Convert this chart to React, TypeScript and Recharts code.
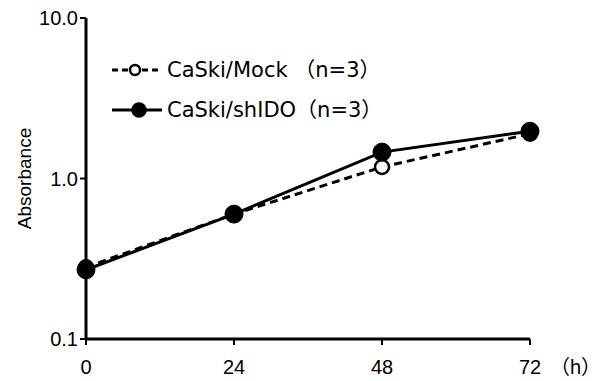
import { Line, LineChart, XAxis, YAxis } from 'recharts';

const hours = [0, 24, 48, 72];
const mockValues = [0.28, 0.6, 1.18, 1.9];
const shidoValues = [0.27, 0.6, 1.46, 1.97];
const yTicks = [0.1, 1, 10];
const xTicks = [0, 24, 48, 72];
const seriesNames = ['CaSki/Mock （n=3）', 'CaSki/shIDO（n=3）'];

const FONT = '"Liberation Sans", "Noto Sans CJK JP", Arial, sans-serif';
const LEGEND_FONT = '"DejaVu Sans", "Noto Sans CJK JP", sans-serif';

const data = hours.map((h, i) => ({ hour: h, mock: mockValues[i], shido: shidoValues[i] }));

function XTick(props: any) {
  const { x, y, payload } = props;
  return (
    <g>
      <text x={x} y={y + 27} textAnchor="middle" fontSize={20} fontFamily={FONT} fill="#000">
        {payload.value}
      </text>
      {payload.value === 72 ? (
        <text x={x + 20} y={y + 27} textAnchor="start" fontSize={20} fontFamily={FONT} fill="#000">
          （h）
        </text>
      ) : null}
    </g>
  );
}

// legend drawn as overlay so it doesn't steal plot space
function LegendBox() {
  return (
    <svg width={320} height={70} style={{ position: 'absolute', left: 110, top: 56 }}>
      {seriesNames.map((name, i) => {
        const cy = 14 + i * 40;
        const dashed = i === 0;
        return (
          <g key={name}>
            <line
              x1={2}
              x2={52}
              y1={cy}
              y2={cy}
              stroke="#000"
              strokeWidth={3}
              strokeDasharray={dashed ? '6 4' : undefined}
            />
            <circle cx={dashed ? 25 : 29} cy={cy} r={dashed ? 5 : 6.5} fill={dashed ? '#fff' : '#000'} stroke="#000" strokeWidth={2.5} />
            <text x={57} y={cy + 7} fontSize={21} fontFamily={LEGEND_FONT} fill="#000">
              {name}
            </text>
          </g>
        );
      })}
    </svg>
  );
}

export default function App() {
  return (
    <div style={{ position: 'absolute', left: 0, top: 0, width: 600, height: 381, background: '#fff' }}>
      <LineChart width={600} height={381} data={data} margin={{ top: 18, right: 70, bottom: 0, left: 16 }}>
        <XAxis
          dataKey="hour"
          type="number"
          domain={[0, 72]}
          ticks={xTicks}
          axisLine={{ stroke: '#000', strokeWidth: 3 }}
          tickLine={{ stroke: '#000', strokeWidth: 2 }}
          tickSize={6}
          tick={<XTick />}
          height={42}
        />
        <YAxis
          scale="log"
          domain={[0.1, 10]}
          ticks={yTicks}
          allowDataOverflow
          width={70}
          tickFormatter={(v: number) => v.toFixed(1)}
          axisLine={{ stroke: '#000', strokeWidth: 3 }}
          tickLine={{ stroke: '#000', strokeWidth: 2 }}
          tickSize={6}
          tick={{ fontSize: 20, fontFamily: FONT, fill: '#000' }}
          label={{
            value: 'Absorbance',
            angle: -90,
            position: 'insideLeft',
            offset: 8,
            style: { fontSize: 19, fontFamily: FONT, fill: '#000', textAnchor: 'middle' },
          }}
        />
        <Line
          type="linear"
          dataKey="mock"
          stroke="#000"
          strokeWidth={3}
          strokeDasharray="8 5"
          dot={{ r: 7, fill: '#fff', stroke: '#000', strokeWidth: 2.5, strokeDasharray: '0' }}
          isAnimationActive={false}
        />
        <Line
          type="linear"
          dataKey="shido"
          stroke="#000"
          strokeWidth={3}
          dot={{ r: 9, fill: '#000', stroke: '#000', strokeWidth: 1 }}
          isAnimationActive={false}
        />
      </LineChart>
      <LegendBox />
    </div>
  );
}
